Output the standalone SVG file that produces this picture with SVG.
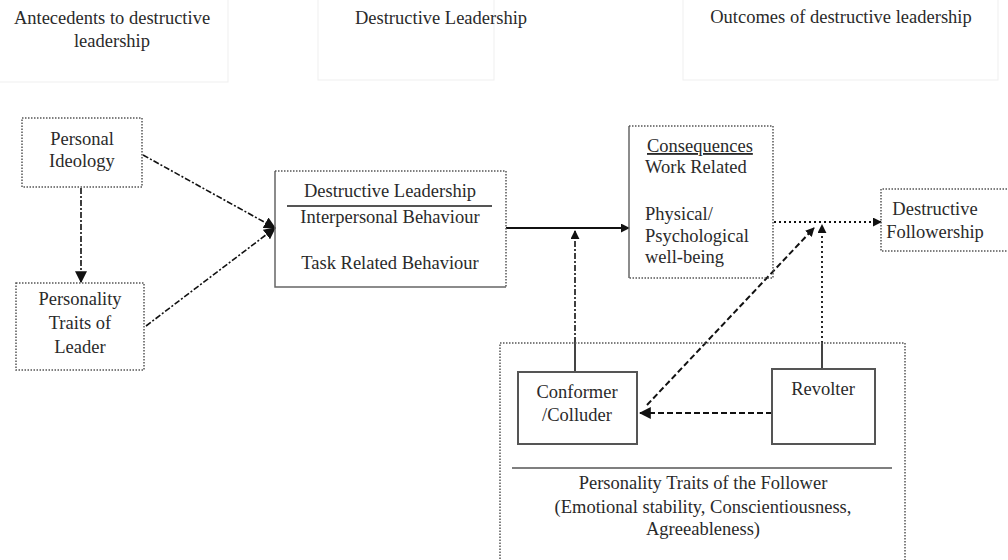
<svg xmlns="http://www.w3.org/2000/svg" width="1008" height="560" viewBox="0 0 1008 560">
<style>
text{font-family:"Liberation Serif","Times New Roman",serif;font-size:18.5px;fill:#2a2a2a}
.c{text-anchor:middle}
.hdr{fill:none;stroke:#efefef;stroke-width:1}
.dot{fill:none;stroke:#555;stroke-width:1.5;stroke-dasharray:1.5,1.5}
.sol{fill:none;stroke:#666;stroke-width:1.5}
.box{fill:#fff;stroke:#555;stroke-width:2}
.ln{fill:none;stroke:#111;stroke-width:1.8}
.dash{fill:none;stroke:#111;stroke-width:2;stroke-dasharray:6,3}
.dd{fill:none;stroke:#111;stroke-width:1.6;stroke-dasharray:6,2,2,2}
.dt{fill:none;stroke:#111;stroke-width:1.8;stroke-dasharray:2,3}
</style>
<defs>
<marker id="ah" viewBox="0 0 10 10" refX="9" refY="5" markerWidth="9" markerHeight="9" markerUnits="userSpaceOnUse" orient="auto">
<path d="M0,0 L10,5 L0,10 z" fill="#111"/>
</marker>
<marker id="ahs" viewBox="0 0 10 10" refX="9" refY="5" markerWidth="12" markerHeight="12" markerUnits="userSpaceOnUse" orient="auto">
<path d="M0,0 L10,5 L0,10 z" fill="#111"/>
</marker>
</defs>
<rect width="1008" height="560" fill="#fff"/>

<g id="headers">
<rect class="hdr" x="-2" y="-2" width="230" height="84"/>
<rect class="hdr" x="318" y="-2" width="176" height="82"/>
<rect class="hdr" x="683" y="-2" width="315" height="82"/>
<text class="c" x="112" y="24">Antecedents to destructive</text>
<text class="c" x="112" y="47">leadership</text>
<text class="c" x="441" y="24">Destructive Leadership</text>
<text class="c" x="841" y="23">Outcomes of destructive leadership</text>
</g>

<g id="connectors">
<line class="dd" x1="81" y1="188" x2="81" y2="282" marker-end="url(#ahs)"/>
<line class="dd" x1="143" y1="155" x2="275" y2="228" marker-end="url(#ahs)"/>
<line class="dd" x1="146" y1="326" x2="275" y2="228" marker-end="url(#ahs)"/>
<line class="ln" x1="506" y1="228" x2="629" y2="228" marker-end="url(#ah)"/>
<line x1="575" y1="372" x2="575" y2="343" stroke="#444" stroke-width="2"/>
<line class="dd" x1="575" y1="343" x2="575" y2="231" stroke="#444" marker-end="url(#ah)"/>
<line class="dt" x1="774" y1="222" x2="881" y2="222" marker-end="url(#ah)"/>
<line x1="822" y1="369" x2="822" y2="343" stroke="#444" stroke-width="2"/>
<line class="dt" x1="822" y1="343" x2="822" y2="225" marker-end="url(#ah)"/>
<line class="dash" x1="647" y1="405" x2="814" y2="228" marker-end="url(#ah)"/>
<line class="dash" x1="772" y1="413" x2="640" y2="413" marker-end="url(#ahs)"/>
</g>

<g id="personal-ideology">
<rect class="dot" x="22" y="118" width="120" height="69"/>
<text class="c" x="82" y="145">Personal</text>
<text class="c" x="82" y="167">Ideology</text>
</g>

<g id="personality-traits-leader">
<rect class="dot" x="16" y="283" width="128" height="87"/>
<text class="c" x="80" y="305">Personality</text>
<text class="c" x="80" y="329">Traits of</text>
<text class="c" x="80" y="353">Leader</text>
</g>

<g id="destructive-leadership">
<path class="sol" d="M275,171 V287 H506"/>
<path class="dot" d="M275,171 H506 V287"/>
<line x1="287" y1="206" x2="492" y2="206" stroke="#555" stroke-width="1.8"/>
<text class="c" x="390" y="197">Destructive Leadership</text>
<text class="c" x="390" y="223">Interpersonal Behaviour</text>
<text class="c" x="390" y="269">Task Related Behaviour</text>
</g>

<g id="consequences">
<path class="sol" d="M629,278 V126"/>
<path class="dot" d="M629,126 H773 V278 H629"/>
<text x="647" y="152" text-decoration="underline">Consequences</text>
<text x="645" y="173">Work Related</text>
<text x="645" y="220">Physical/</text>
<text x="645" y="242">Psychological</text>
<text x="645" y="263">well-being</text>
</g>

<g id="destructive-followership">
<path class="dot" d="M1010,189 H881 V251 H1010"/>
<text class="c" x="935" y="215">Destructive</text>
<text class="c" x="935" y="238">Followership</text>
</g>

<g id="follower-traits">
<path class="dot" d="M500,565 V343 H905 V565"/>
<line x1="512" y1="468" x2="892" y2="468" stroke="#555" stroke-width="1.5"/>
<text class="c" x="703" y="489">Personality Traits of the Follower</text>
<text class="c" x="703" y="513">(Emotional stability, Conscientiousness,</text>
<text class="c" x="703" y="535">Agreeableness)</text>
</g>

<g id="conformer">
<rect class="box" x="518" y="372" width="119" height="72"/>
<text class="c" x="577" y="398">Conformer</text>
<text class="c" x="577" y="421">/Colluder</text>
</g>

<g id="revolter">
<rect class="box" x="772" y="369" width="103" height="75"/>
<text class="c" x="823" y="395">Revolter</text>
</g>
</svg>
